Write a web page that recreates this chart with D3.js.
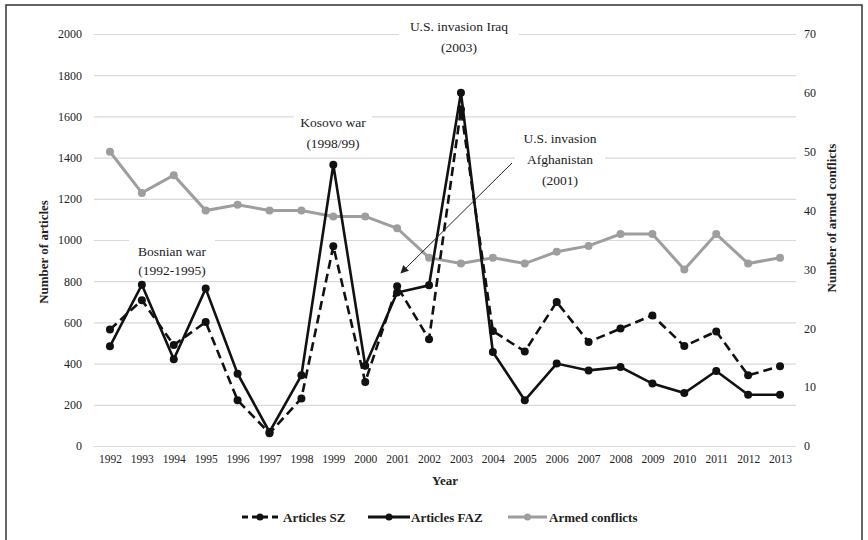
<!DOCTYPE html>
<html><head><meta charset="utf-8">
<script src="https://cdn.jsdelivr.net/npm/d3@7"></script>
<style>body{margin:0;background:#fff}svg{display:block}</style>
</head><body>
<script>
const years = [1992,1993,1994,1995,1996,1997,1998,1999,2000,2001,2002,2003,2004,2005,2006,2007,2008,2009,2010,2011,2012,2013];
const articlesSZ  = [565,708,490,602,222,62,231,970,311,775,518,1635,558,459,699,505,570,634,485,556,343,387];
const articlesFAZ = [484,783,421,764,351,68,343,1365,390,745,780,1715,456,222,400,367,383,303,257,364,249,249];
const armedConflicts = [50,43,46,40,41,40,40,39,39,37,32,31,32,31,33,34,36,36,30,36,31,32];
const leftTicks = [0,200,400,600,800,1000,1200,1400,1600,1800,2000];
const rightTicks = [0,10,20,30,40,50,60,70];
const seriesNames = ["Articles SZ","Articles FAZ","Armed conflicts"];

const W=868,H=540;
const svg=d3.select("body").append("svg").attr("width",W).attr("height",H);
const serif="'Liberation Serif','Times New Roman',serif";

svg.append("path").attr("d","M6,545V5H862V545").attr("fill","none").attr("stroke","#333").attr("stroke-width",1.5);

const x=d3.scalePoint().domain(years).range([94,796]).padding(0.5);
const yL=d3.scaleLinear().domain([0,2000]).range([446,34]);
const yR=d3.scaleLinear().domain([0,70]).range([446,34]);

// grid
const gl=svg.append("g").attr("transform","translate(94,0)")
  .call(d3.axisLeft(yL).tickValues(leftTicks).tickSize(-702).tickPadding(12).tickFormat(d3.format("d")));
gl.select(".domain").remove();
gl.selectAll(".tick line").attr("stroke","#d9d9d9").attr("stroke-width",1.2);
gl.selectAll(".tick text").attr("font-family",serif).attr("font-size",12).attr("fill","#222");

const gr=svg.append("g").attr("transform","translate(796,0)")
  .call(d3.axisRight(yR).tickValues(rightTicks).tickSize(0).tickPadding(8));
gr.select(".domain").remove();
gr.selectAll(".tick text").attr("font-family",serif).attr("font-size",12).attr("fill","#222");

const gx=svg.append("g").attr("transform","translate(0,446)")
  .call(d3.axisBottom(x).tickSize(0).tickPadding(9).tickFormat(d=>String(d)));
gx.select(".domain").remove();
gx.selectAll(".tick text").attr("font-family",serif).attr("font-size",11.5).attr("fill","#222");

// axis titles
svg.append("text").attr("transform","translate(48,252) rotate(-90)").attr("text-anchor","middle")
  .attr("font-family",serif).attr("font-weight","bold").attr("font-size",13).attr("fill","#222").text("Number  of articles");
svg.append("text").attr("transform","translate(836,218) rotate(-90)").attr("text-anchor","middle")
  .attr("font-family",serif).attr("font-weight","bold").attr("font-size",13).attr("fill","#222").text("Number  of armed  conflicts");
svg.append("text").attr("x",445).attr("y",485).attr("text-anchor","middle")
  .attr("font-family",serif).attr("font-weight","bold").attr("font-size",13).attr("fill","#222").text("Year");

// annotations backgrounds + text
function label(cx, lines, y0, lh, bw){
  const g=svg.append("g");
  g.append("rect").attr("x",cx-bw/2).attr("y",y0-lh+2).attr("width",bw).attr("height",lh*lines.length+4).attr("fill","#fff");
  lines.forEach((t,i)=>g.append("text").attr("x",cx).attr("y",y0+i*lh).attr("text-anchor","middle")
    .attr("font-family",serif).attr("font-size",13.5).attr("fill","#222").text(t));
}
label(172,["Bosnian war","(1992-1995)"],256,19,86);
label(333,["Kosovo war","(1998/99)"],127,21,78);
label(459,["U.S. invasion Iraq","(2003)"],31,21,120);
label(560,["U.S. invasion","Afghanistan","(2001)"],143,21,90);

// lines
const lineL=d3.line().x((d,i)=>x(years[i])).y(d=>yL(d));
const lineR=d3.line().x((d,i)=>x(years[i])).y(d=>yR(d));
const gc="#9e9e9e";
svg.append("path").datum(armedConflicts).attr("d",lineR).attr("fill","none").attr("stroke",gc).attr("stroke-width",3);
svg.append("g").selectAll("circle").data(armedConflicts).join("circle")
  .attr("cx",(d,i)=>x(years[i])).attr("cy",d=>yR(d)).attr("r",4).attr("fill",gc);

svg.append("path").datum(articlesSZ).attr("d",lineL).attr("fill","none").attr("stroke","#111").attr("stroke-width",2.6).attr("stroke-dasharray","9,5");
svg.append("g").selectAll("circle").data(articlesSZ).join("circle")
  .attr("cx",(d,i)=>x(years[i])).attr("cy",d=>yL(d)).attr("r",4).attr("fill","#111");
svg.append("path").datum(articlesFAZ).attr("d",lineL).attr("fill","none").attr("stroke","#111").attr("stroke-width",2.6);
svg.append("g").selectAll("circle").data(articlesFAZ).join("circle")
  .attr("cx",(d,i)=>x(years[i])).attr("cy",d=>yL(d)).attr("r",4).attr("fill","#111");

// arrow
svg.append("defs").append("marker").attr("id","ah").attr("viewBox","0 0 10 10").attr("refX",9).attr("refY",5)
  .attr("markerWidth",8).attr("markerHeight",8).attr("orient","auto")
  .append("path").attr("d","M0,0L10,5L0,10z").attr("fill","#222");
svg.append("line").attr("x1",512).attr("y1",163).attr("x2",401).attr("y2",273).attr("stroke","#222").attr("stroke-width",1).attr("marker-end","url(#ah)");

// legend
const legend=[{n:seriesNames[0],x0:242,x1:278,tx:283,c:"#111",dash:"6,4"},
              {n:seriesNames[1],x0:368,x1:410,tx:411,c:"#111",dash:null},
              {n:seriesNames[2],x0:508,x1:547,tx:549,c:gc,dash:null}];
const lg=svg.append("g");
legend.forEach(l=>{
  lg.append("line").attr("x1",l.x0).attr("x2",l.x1).attr("y1",517).attr("y2",517).attr("stroke",l.c).attr("stroke-width",3).attr("stroke-dasharray",l.dash);
  lg.append("circle").attr("cx",(l.x0+l.x1)/2).attr("cy",517).attr("r",3.5).attr("fill",l.c);
  lg.append("text").attr("x",l.tx).attr("y",521.5).attr("font-family",serif).attr("font-weight","bold").attr("font-size",13).attr("fill","#222").text(l.n);
});
</script>
</body></html>
